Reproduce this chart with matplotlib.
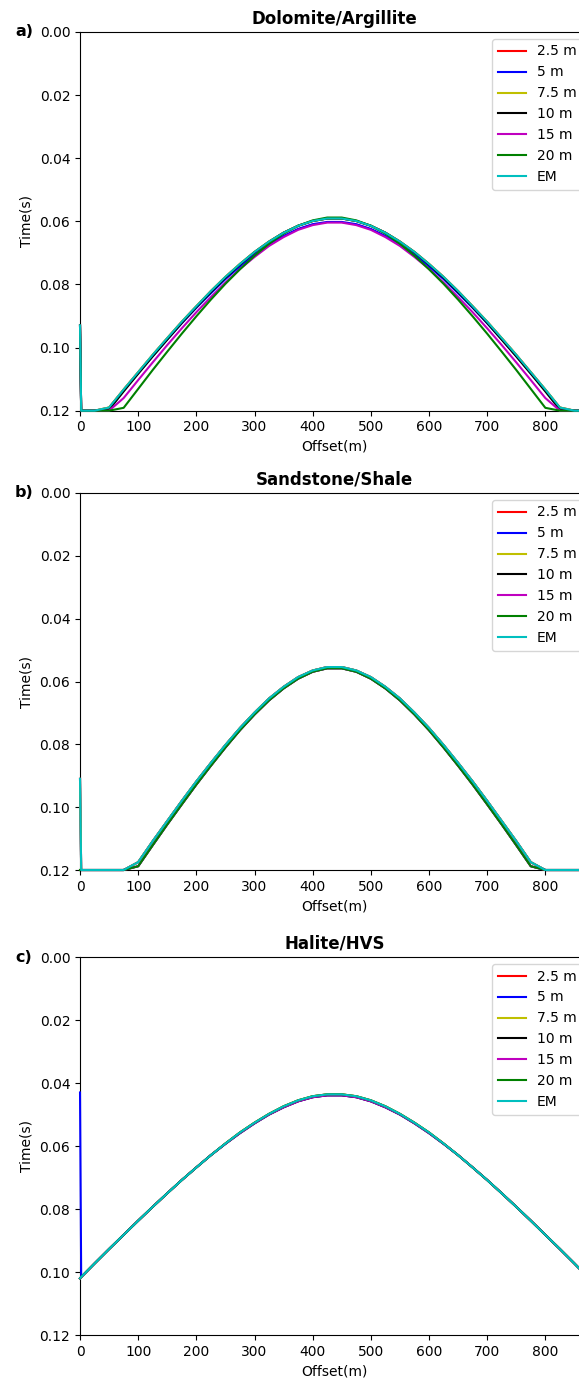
import matplotlib
matplotlib.use("Agg")
import matplotlib.pyplot as plt

# trace offsets (m) for every pick curve
OFFSETS = [0, 2, 25, 50, 75, 100, 125, 150, 175, 200, 225, 250, 275, 300,
           325, 350, 375, 400, 425, 450, 475, 500, 525, 550, 575, 600, 625,
           650, 675, 700, 725, 750, 775, 800, 825, 850, 875]

LABELS = ["2.5 m", "5 m", "7.5 m", "10 m", "15 m", "20 m", "EM"]
COLORS = ["r", "b", "y", "k", "m", "g", "c"]

# picked times (s), Dolomite/Argillite
DOL_OUTER = [0.093, 0.12, 0.12, 0.1190, 0.1133, 0.1078, 0.1023, 0.0970, 0.0918,
             0.0869, 0.0821, 0.0776, 0.0735, 0.0697, 0.0664, 0.0636, 0.0614,
             0.0599, 0.0591, 0.0591, 0.0599, 0.0614, 0.0636, 0.0664, 0.0697,
             0.0735, 0.0776, 0.0821, 0.0869, 0.0918, 0.0970, 0.1023, 0.1078,
             0.1133, 0.1190, 0.12, 0.12]
DOL_BLUE = [0.093, 0.12, 0.12, 0.1192, 0.1136, 0.1081, 0.1027, 0.0974, 0.0923,
            0.0874, 0.0828, 0.0783, 0.0743, 0.0705, 0.0673, 0.0646, 0.0624,
            0.0609, 0.0602, 0.0602, 0.0609, 0.0624, 0.0646, 0.0673, 0.0705,
            0.0743, 0.0783, 0.0828, 0.0874, 0.0923, 0.0974, 0.1027, 0.1081,
            0.1136, 0.1192, 0.12, 0.12]
DOL_BLACK = [0.093, 0.12, 0.12, 0.1197, 0.1139, 0.1083, 0.1028, 0.0975, 0.0922,
             0.0872, 0.0824, 0.0779, 0.0737, 0.0698, 0.0665, 0.0636, 0.0614,
             0.0599, 0.0591, 0.0591, 0.0599, 0.0614, 0.0636, 0.0665, 0.0698,
             0.0737, 0.0779, 0.0824, 0.0872, 0.0922, 0.0975, 0.1028, 0.1083,
             0.1139, 0.1197, 0.12, 0.12]
DOL_MAGENTA = [0.093, 0.12, 0.12, 0.12, 0.1160, 0.1103, 0.1047, 0.0992, 0.0939,
               0.0888, 0.0840, 0.0794, 0.0751, 0.0713, 0.0678, 0.0650, 0.0627,
               0.0612, 0.0604, 0.0604, 0.0612, 0.0627, 0.0650, 0.0678, 0.0713,
               0.0751, 0.0794, 0.0840, 0.0888, 0.0939, 0.0992, 0.1047, 0.1103,
               0.1160, 0.12, 0.12, 0.12]
DOL_GREEN = [0.093, 0.12, 0.12, 0.12, 0.1191, 0.1131, 0.1071, 0.1013, 0.0956,
             0.0901, 0.0848, 0.0798, 0.0752, 0.0709, 0.0671, 0.0639, 0.0614,
             0.0597, 0.0588, 0.0588, 0.0597, 0.0614, 0.0639, 0.0671, 0.0709,
             0.0752, 0.0798, 0.0848, 0.0901, 0.0956, 0.1013, 0.1071, 0.1131,
             0.1191, 0.12, 0.12, 0.12]

# picked times (s), Sandstone/Shale
SAND_OUTER = [0.091, 0.12, 0.12, 0.12, 0.12, 0.1175, 0.1108, 0.1044, 0.0980,
              0.0918, 0.0859, 0.0802, 0.0748, 0.0699, 0.0654, 0.0617, 0.0586,
              0.0565, 0.0554, 0.0554, 0.0565, 0.0586, 0.0617, 0.0654, 0.0699,
              0.0748, 0.0802, 0.0859, 0.0918, 0.0980, 0.1044, 0.1108, 0.1175,
              0.12, 0.12, 0.12, 0.12]
SAND_INNER = [0.12, 0.12, 0.12, 0.12, 0.12, 0.1188, 0.1121, 0.1055, 0.0991,
              0.0928, 0.0868, 0.0810, 0.0755, 0.0705, 0.0660, 0.0622, 0.0591,
              0.0569, 0.0558, 0.0558, 0.0569, 0.0591, 0.0622, 0.0660, 0.0705,
              0.0755, 0.0810, 0.0868, 0.0928, 0.0991, 0.1055, 0.1121, 0.1188,
              0.12, 0.12, 0.12, 0.12]

# picked times (s), Halite/HVS
HAL_OUTER = [0.1020, 0.1016, 0.0973, 0.0927, 0.0882, 0.0837, 0.0793, 0.0750,
             0.0708, 0.0668, 0.0629, 0.0592, 0.0557, 0.0526, 0.0498, 0.0474,
             0.0455, 0.0442, 0.0436, 0.0436, 0.0442, 0.0455, 0.0474, 0.0498,
             0.0526, 0.0557, 0.0592, 0.0629, 0.0668, 0.0708, 0.0750, 0.0793,
             0.0837, 0.0882, 0.0927, 0.0973, 0.1020]
HAL_INNER = [0.1020, 0.1016, 0.0973, 0.0927, 0.0882, 0.0837, 0.0793, 0.0750,
             0.0708, 0.0668, 0.0629, 0.0593, 0.0559, 0.0528, 0.0500, 0.0477,
             0.0458, 0.0445, 0.0439, 0.0439, 0.0445, 0.0458, 0.0477, 0.0500,
             0.0528, 0.0559, 0.0593, 0.0629, 0.0668, 0.0708, 0.0750, 0.0793,
             0.0837, 0.0882, 0.0927, 0.0973, 0.1020]
HAL_BLUE = [0.043, 0.1016, 0.0973, 0.0927, 0.0882, 0.0837, 0.0793, 0.0750,
            0.0708, 0.0668, 0.0629, 0.0593, 0.0559, 0.0528, 0.0500, 0.0477,
            0.0458, 0.0445, 0.0439, 0.0439, 0.0445, 0.0458, 0.0477, 0.0500,
            0.0528, 0.0559, 0.0593, 0.0629, 0.0668, 0.0708, 0.0750, 0.0793,
            0.0837, 0.0882, 0.0927, 0.0973, 0.1020]

# series order follows LABELS
DOLOMITE = [DOL_OUTER, DOL_BLUE, DOL_OUTER, DOL_BLACK, DOL_MAGENTA, DOL_GREEN, DOL_OUTER]
SANDSTONE = [SAND_OUTER, SAND_OUTER, SAND_OUTER, SAND_INNER, SAND_INNER, SAND_INNER, SAND_OUTER]
HALITE = [HAL_OUTER, HAL_BLUE, HAL_OUTER, HAL_INNER, HAL_INNER, HAL_OUTER, HAL_OUTER]

PANELS = [
    ("a)", "Dolomite/Argillite", DOLOMITE, [0.1382, 0.7022, 0.879, 0.2746]),
    ("b)", "Sandstone/Shale", SANDSTONE, [0.1382, 0.3691, 0.879, 0.2734]),
    ("c)", "Halite/HVS", HALITE, [0.1382, 0.0319, 0.879, 0.2741]),
]


def main():
    fig = plt.figure(figsize=(5.79, 13.79), dpi=100)

    for letter, title, series, rect in PANELS:
        ax = fig.add_axes(rect)
        for label, color, times in zip(LABELS, COLORS, series):
            ax.plot(OFFSETS, times, color=color, label=label, lw=1.5,
                    clip_on=False, zorder=3)

        ax.set_xlim(0, 875)
        ax.set_ylim(0.12, 0.0)
        ax.set_title(title, fontsize=12, fontweight="bold")
        ax.set_xlabel("Offset(m)")
        ax.set_ylabel("Time(s)")
        ax.legend(loc="upper right")

        top = rect[1] + rect[3]
        fig.text(0.026, top, letter, fontsize=11.5, fontweight="bold", va="center")

    fig.savefig("out.png", dpi=100)
    plt.close(fig)


if __name__ == "__main__":
    main()
